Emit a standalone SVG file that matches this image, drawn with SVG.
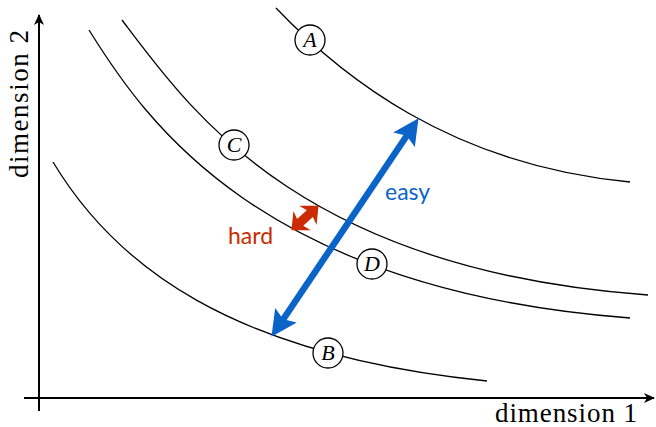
<svg xmlns="http://www.w3.org/2000/svg" width="656" height="427" viewBox="0 0 656 427">
<style>
.curve{fill:none;stroke:#000;stroke-width:1.3}
.axis{fill:none;stroke:#000;stroke-width:2}
.node circle{fill:#fff;stroke:#000;stroke-width:1.3}
.node text{font-family:"Liberation Serif",serif;font-style:italic;font-size:22px;text-anchor:middle}
.axlabel{font-family:"Liberation Serif",serif;font-size:27px}
.sans{font-family:Lato,"Open Sans",sans-serif;font-size:23px}
</style>
<defs>
<marker id="axhead" markerUnits="userSpaceOnUse" markerWidth="14" markerHeight="12" refX="10" refY="5" orient="auto">
<path d="M0,0 L11,5 L0,10 L3,5 Z" fill="#000"/>
</marker>
<marker id="bluehead" markerUnits="userSpaceOnUse" markerWidth="32" markerHeight="32" refX="10" refY="13" orient="auto-start-reverse">
<path d="M0,0 L26,13 L0,26 L5,13 Z" fill="#0a64c8"/>
</marker>
</defs>
<g id="axes">
<line class="axis" x1="39" y1="411" x2="39" y2="15" marker-end="url(#axhead)"/>
<line class="axis" x1="24" y1="398" x2="654" y2="398" marker-end="url(#axhead)"/>
<text class="axlabel" x="495" y="422" textLength="142" lengthAdjust="spacing">dimension 1</text>
<text class="axlabel" transform="translate(28,104) rotate(-90)" text-anchor="middle" textLength="148" lengthAdjust="spacing">dimension 2</text>
</g>
<g id="connectors">
<path class="curve" d="M276,8 C340,75 450,165 630,182"/>
<path class="curve" d="M122,20 C190,110 300,270 648,295"/>
<path class="curve" d="M89,30 C145,120 260,290 630,318"/>
<path class="curve" d="M53,162 C115,265 230,355 487,381"/>
<line x1="280.4" y1="323.5" x2="409.6" y2="131.5" stroke="#0a64c8" stroke-width="6.5" marker-start="url(#bluehead)" marker-end="url(#bluehead)"/>
<polygon transform="translate(305,218) rotate(-42) scale(1.3)" fill="#cc2a00" points="14,0 3,-10 5,-3.5 -5,-3.5 -3,-10 -14,0 -3,10 -5,3.5 5,3.5 3,10"/>
</g>
<g id="labels">
<text class="sans" x="385" y="200" fill="#0a64c8">easy</text>
<text class="sans" x="228" y="244" fill="#cc2a00">hard</text>
</g>
<g id="nodeA" class="node"><circle cx="310" cy="40" r="15"/><text x="310" y="47">A</text></g>
<g id="nodeC" class="node"><circle cx="234" cy="145" r="15"/><text x="234" y="152">C</text></g>
<g id="nodeD" class="node"><circle cx="372" cy="264" r="15"/><text x="372" y="271">D</text></g>
<g id="nodeB" class="node"><circle cx="328" cy="353" r="15"/><text x="328" y="360">B</text></g>
</svg>
